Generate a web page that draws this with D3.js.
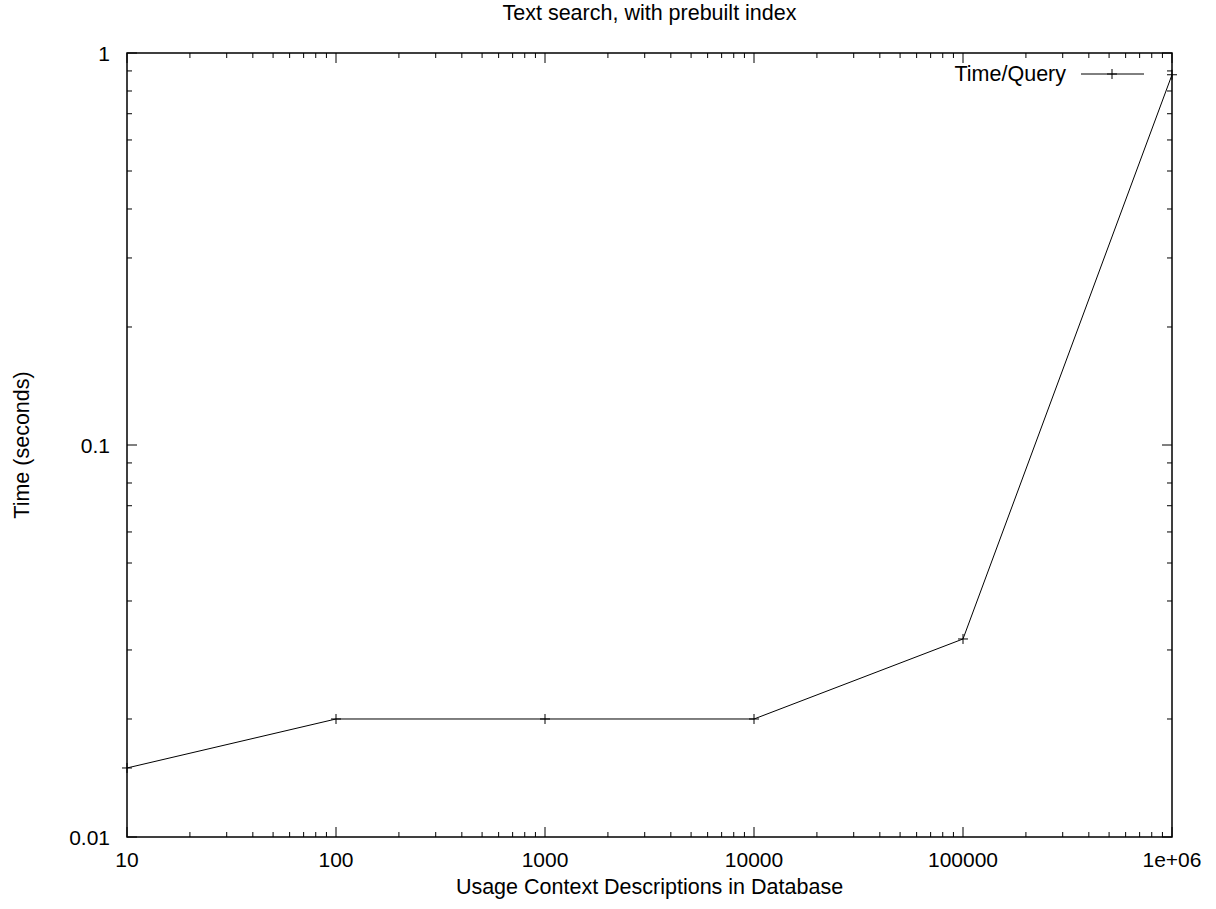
<!DOCTYPE html>
<meta charset="utf-8">
<style>
body { margin: 0; background: #fff; }
text { font-family: "Liberation Sans", Arial, sans-serif; fill: #000; }
</style>
<svg width="1216" height="909"></svg>
<script src="https://d3js.org/d3.v7.min.js"></script>
<script>

// data
var sizes = [10, 100, 1000, 10000, 100000, 1000000];
var timePerQuery = [0.015, 0.02, 0.02, 0.02, 0.032, 0.88];
var xTicks = [10, 100, 1000, 10000, 100000, 1000000];
var xTickLabels = ["10", "100", "1000", "10000", "100000", "1e+06"];
var yTicks = [0.01, 0.1, 1];
var yTickLabels = ["0.01", "0.1", "1"];

var svg = d3.select("svg"),
    width = +svg.attr("width"),
    height = +svg.attr("height");

var pLeft = 127, pRight = 1172, pTop = 53, pBottom = 837;
var majorLen = 10, minorLen = 5;

var x = d3.scaleLog().domain([10, 1000000]).range([pLeft, pRight]);
var y = d3.scaleLog().domain([0.01, 1]).range([pBottom, pTop]);

// minor ticks 2..9 inside each decade
var xMinor = [], yMinor = [];
xTicks.slice(0, -1).forEach(function(d) {
  for (var k = 2; k < 10; k++) xMinor.push(d * k);
});
yTicks.slice(0, -1).forEach(function(d) {
  for (var k = 2; k < 10; k++) yMinor.push(d * k);
});

var ticks = svg.append("g")
    .attr("stroke", "#000")
    .attr("stroke-width", 1);

function xTick(v, len) {
  ticks.append("line").attr("x1", x(v)).attr("x2", x(v)).attr("y1", pBottom).attr("y2", pBottom - len);
  ticks.append("line").attr("x1", x(v)).attr("x2", x(v)).attr("y1", pTop).attr("y2", pTop + len);
}
function yTick(v, len) {
  ticks.append("line").attr("y1", y(v)).attr("y2", y(v)).attr("x1", pLeft).attr("x2", pLeft + len);
  ticks.append("line").attr("y1", y(v)).attr("y2", y(v)).attr("x1", pRight).attr("x2", pRight - len);
}
xTicks.forEach(function(v) { xTick(v, majorLen); });
xMinor.forEach(function(v) { xTick(v, minorLen); });
yTicks.forEach(function(v) { yTick(v, majorLen); });
yMinor.forEach(function(v) { yTick(v, minorLen); });

// frame
svg.append("rect")
    .attr("x", pLeft).attr("y", pTop)
    .attr("width", pRight - pLeft).attr("height", pBottom - pTop)
    .attr("fill", "none")
    .attr("stroke", "#000")
    .attr("stroke-width", 1.5);

// tick labels
svg.append("g").selectAll("text")
    .data(xTicks)
    .enter().append("text")
    .attr("x", function(d) { return x(d); })
    .attr("y", pBottom + 30)
    .attr("text-anchor", "middle")
    .attr("font-size", "21px")
    .text(function(d, i) { return xTickLabels[i]; });

svg.append("g").selectAll("text")
    .data(yTicks)
    .enter().append("text")
    .attr("x", pLeft - 17)
    .attr("y", function(d) { return y(d) + 8; })
    .attr("text-anchor", "end")
    .attr("font-size", "21px")
    .text(function(d, i) { return yTickLabels[i]; });

// titles
svg.append("text")
    .attr("x", (pLeft + pRight) / 2)
    .attr("y", 20)
    .attr("text-anchor", "middle")
    .attr("font-size", "21.5px")
    .text("Text search, with prebuilt index");

svg.append("text")
    .attr("x", (pLeft + pRight) / 2)
    .attr("y", 894)
    .attr("text-anchor", "middle")
    .attr("font-size", "21.5px")
    .text("Usage Context Descriptions in Database");

svg.append("text")
    .attr("transform", "translate(29," + ((pTop + pBottom) / 2) + ") rotate(-90)")
    .attr("text-anchor", "middle")
    .attr("font-size", "21.5px")
    .text("Time (seconds)");

// series
var pts = sizes.map(function(d, i) { return [d, timePerQuery[i]]; });

var line = d3.line()
    .x(function(d) { return x(d[0]); })
    .y(function(d) { return y(d[1]); });

svg.append("path")
    .datum(pts)
    .attr("d", line)
    .attr("fill", "none")
    .attr("stroke", "#000")
    .attr("stroke-width", 1);

function marker(g, px, py) {
  g.append("path")
    .attr("d", "M" + (px - 5) + "," + py + "H" + (px + 5) + "M" + px + "," + (py - 5) + "V" + (py + 5))
    .attr("stroke", "#000")
    .attr("stroke-width", 1);
}
var marks = svg.append("g");
pts.forEach(function(d) { marker(marks, x(d[0]), y(d[1])); });

// legend
var legY = 74;
svg.append("text")
    .attr("x", 1066)
    .attr("y", legY + 7)
    .attr("text-anchor", "end")
    .attr("font-size", "21.5px")
    .text("Time/Query");
svg.append("line")
    .attr("x1", 1081).attr("x2", 1144)
    .attr("y1", legY).attr("y2", legY)
    .attr("stroke", "#000")
    .attr("stroke-width", 1);
marker(svg, 1112, legY);

</script>
